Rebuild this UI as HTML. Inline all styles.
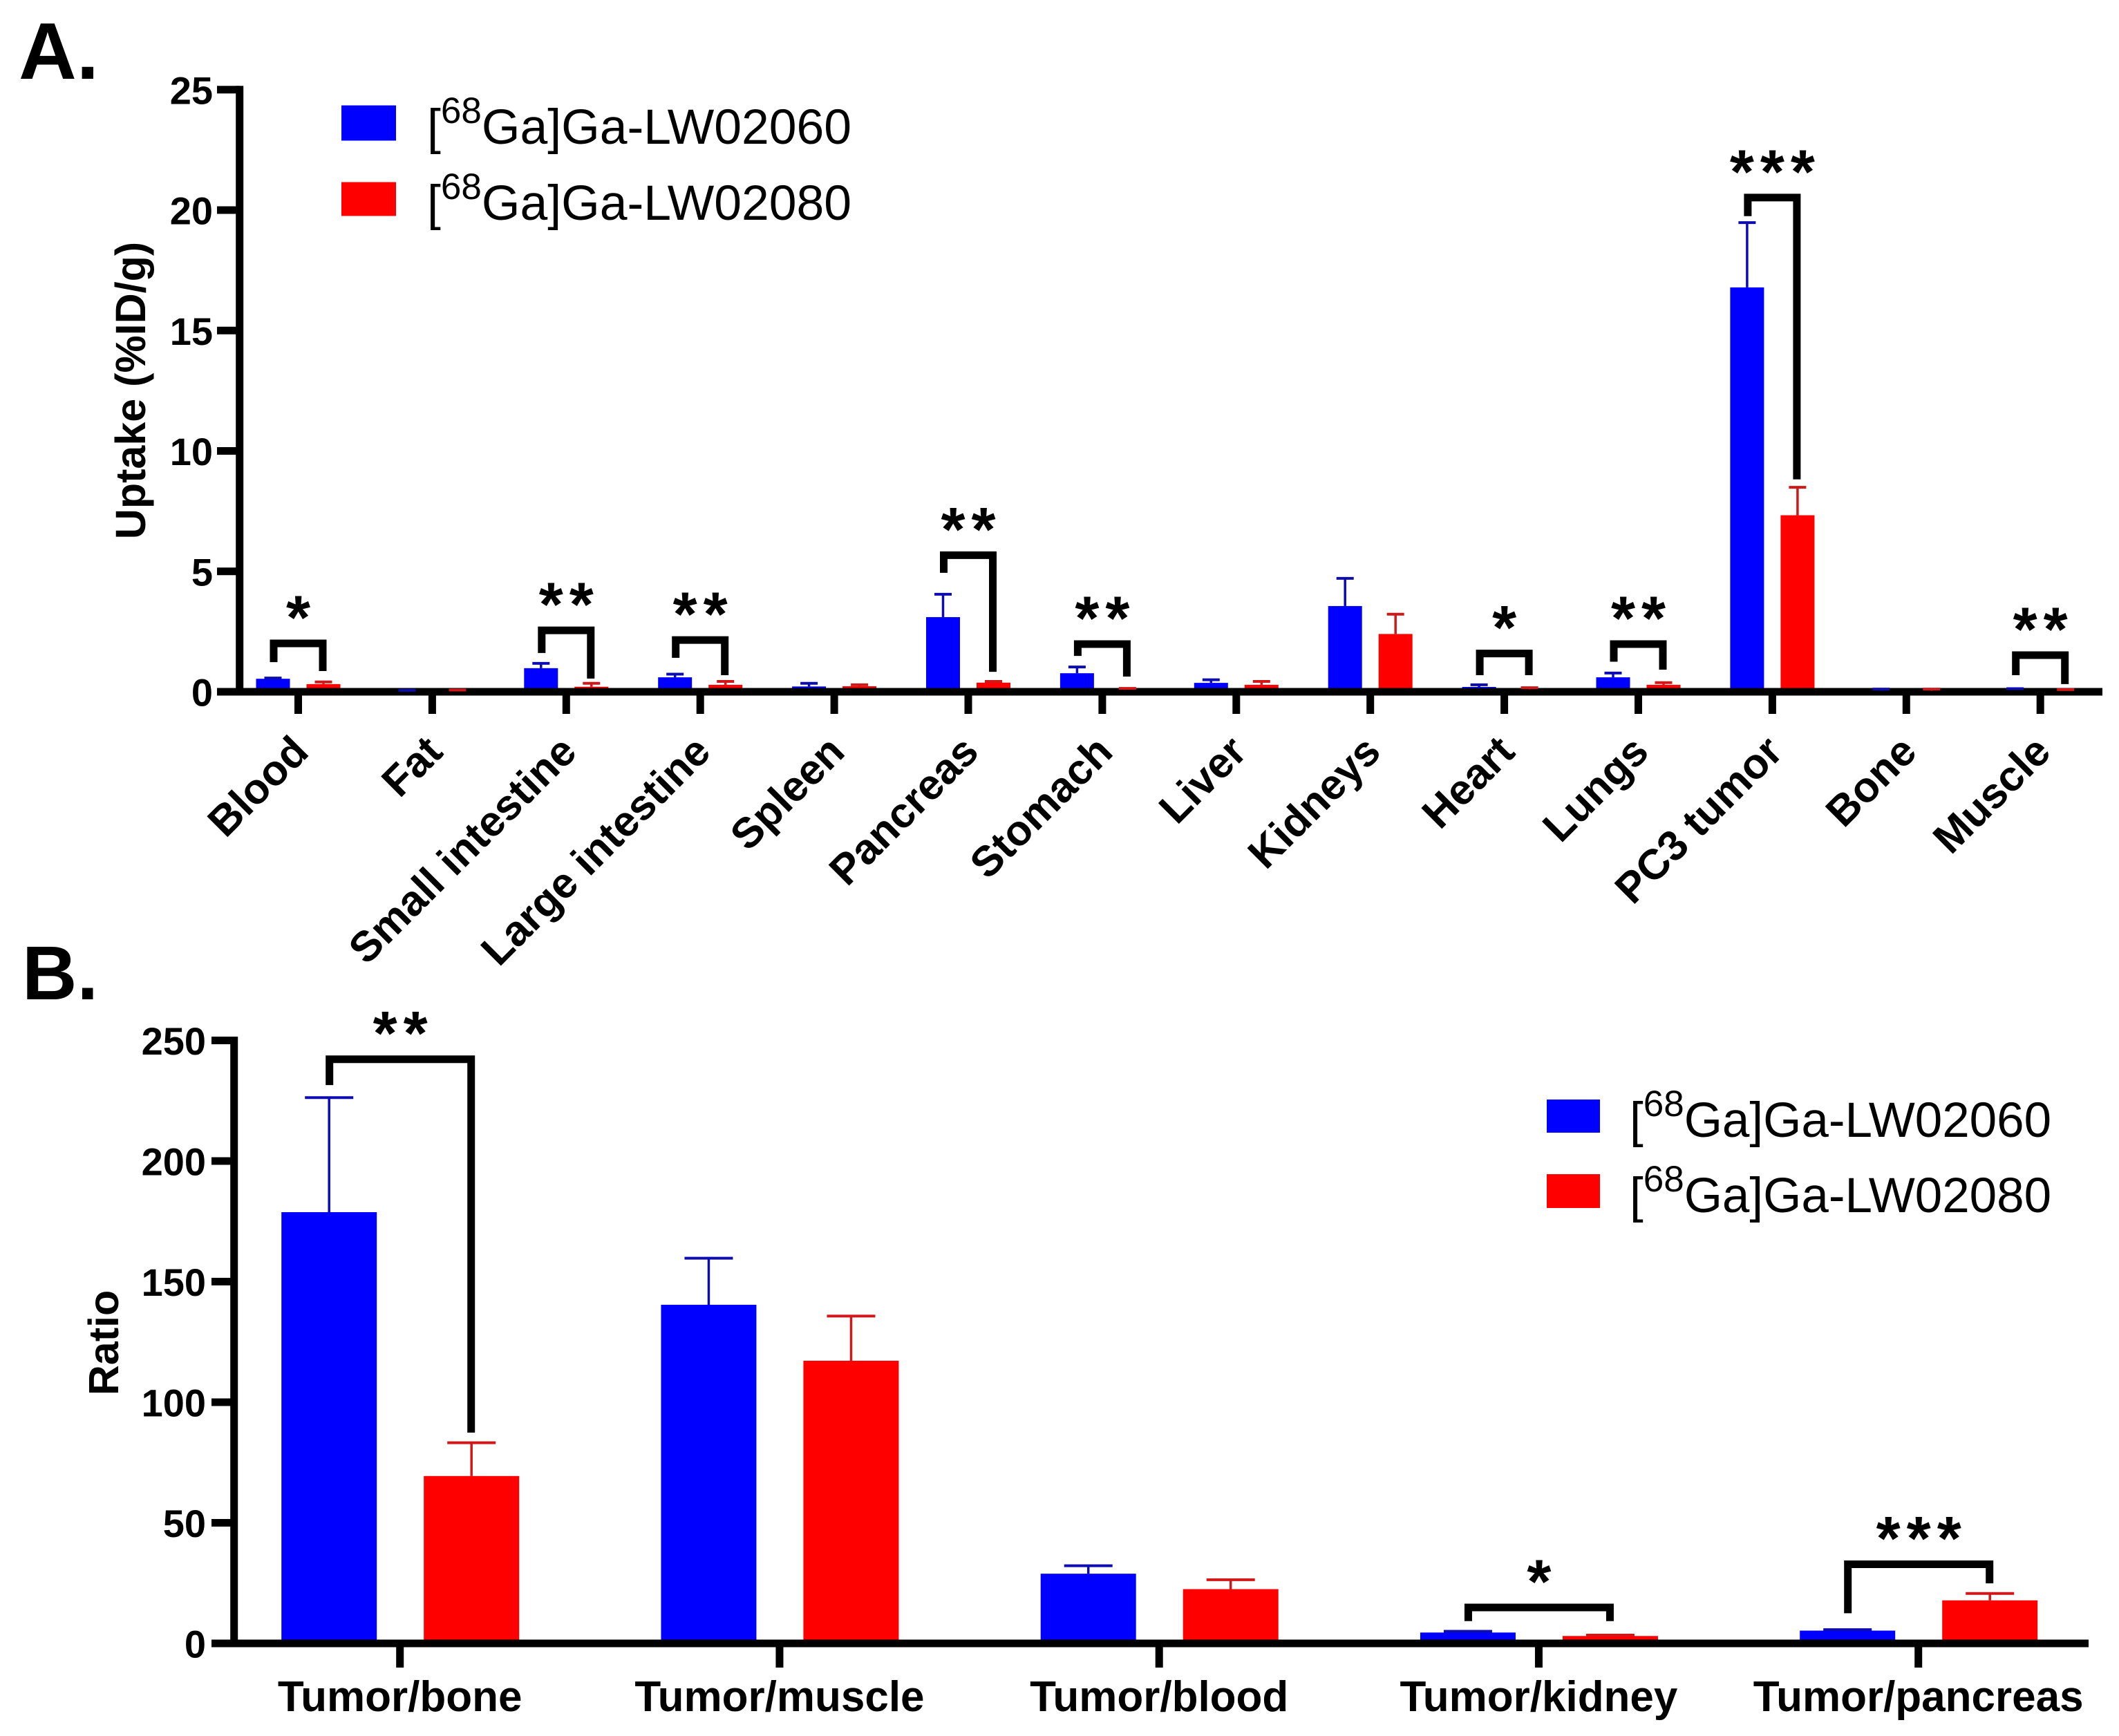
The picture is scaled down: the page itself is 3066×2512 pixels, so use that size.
<!DOCTYPE html>
<html>
<head>
<meta charset="utf-8">
<title>Biodistribution of [68Ga]Ga-LW02060 and [68Ga]Ga-LW02080</title>
<style>
html,body{margin:0;padding:0;background:#fff;}
svg{display:block;}
text{font-family:"Liberation Sans",Arial,sans-serif;fill:#000;}
.b{font-weight:bold;}
</style>
</head>
<body>
<svg id="fig" xmlns="http://www.w3.org/2000/svg" width="3066" height="2512" viewBox="0 0 3066 2512">
<rect x="0" y="0" width="3066" height="2512" fill="#fff"/>
<text class="b" x="27" y="114" font-size="116">A.</text>
<text class="b" x="32" y="1446" font-size="110">B.</text>

<g>
<rect x="494" y="152.5" width="79" height="51" fill="#0000ff"/>
<text x="618" y="208" font-size="71.5">[<tspan font-size="53" dy="-30">68</tspan><tspan dy="30">Ga]Ga-LW02060</tspan></text>
<rect x="494" y="263.5" width="79" height="49" fill="#ff0000"/>
<text x="618" y="318" font-size="71.5">[<tspan font-size="53" dy="-30">68</tspan><tspan dy="30">Ga]Ga-LW02080</tspan></text>
</g>

<g>
<rect x="2238" y="1591" width="77" height="48" fill="#0000ff"/>
<text x="2358" y="1645" font-size="71">[<tspan font-size="53" dy="-30">68</tspan><tspan dy="30">Ga]Ga-LW02060</tspan></text>
<rect x="2238" y="1699" width="77" height="49" fill="#ff0000"/>
<text x="2358" y="1754" font-size="71">[<tspan font-size="53" dy="-30">68</tspan><tspan dy="30">Ga]Ga-LW02080</tspan></text>
</g>

<text class="b" font-size="61" text-anchor="middle" transform="translate(210 565) rotate(-90)">Uptake (%ID/g)</text>
<text class="b" font-size="61" text-anchor="middle" transform="translate(171 1943) rotate(-90)">Ratio</text>
</svg>

<script>
// Panel A data
var organCategories = ["Blood","Fat","Small intestine","Large intestine","Spleen","Pancreas","Stomach","Liver","Kidneys","Heart","Lungs","PC3 tumor","Bone","Muscle"];
var organBlue      = [0.54,0.03,0.98,0.6,0.22,3.1,0.77,0.37,3.56,0.2,0.6,16.79,0.04,0.08];
var organBlueErr   = [0.57,0.06,1.18,0.73,0.35,4.05,1.03,0.5,4.71,0.29,0.78,19.48,0.11,0.13];
var organRed       = [0.32,0.02,0.21,0.29,0.23,0.38,0.1,0.29,2.4,0.1,0.29,7.33,0.04,0.05];
var organRedErr    = [0.41,0.07,0.35,0.43,0.29,0.43,0.14,0.43,3.22,0.17,0.38,8.49,0.11,0.09];
var organYTicks    = [0,5,10,15,20,25];
var organSigIndex  = [0,2,3,5,6,9,10,11,13];
var organSigStars  = ["*","**","**","**","**","*","**","***","**"];
var organSigTop    = [2.01,2.55,2.15,5.67,1.98,1.59,1.98,20.52,1.52];
var organSigLeft   = [1.23,1.61,1.41,4.94,1.49,0.69,1.25,19.75,0.69];
var organSigRight  = [0.86,0.55,0.69,0.83,0.63,0.69,0.92,8.82,0.32];

// Panel B data
var ratioCategories = ["Tumor/bone","Tumor/muscle","Tumor/blood","Tumor/kidney","Tumor/pancreas"];
var ratioBlue      = [178.8,140.4,28.9,4.5,5.3];
var ratioBlueErr   = [226.3,159.7,32.2,5.0,5.7];
var ratioRed       = [69.4,117.2,22.5,3.07,17.85];
var ratioRedErr    = [83.2,135.7,26.4,3.44,20.7];
var ratioYTicks    = [0,50,100,150,200,250];
var ratioSigIndex  = [0,3,4];
var ratioSigStars  = ["**","*","***"];
var ratioSigTop    = [242.2,14.9,32.8];
var ratioSigLeft   = [231.5,9.25,12.5];
var ratioSigRight  = [87.4,9.25,24.9];

var svgNS = "http://www.w3.org/2000/svg";
var root = document.getElementById("fig");

function slug(s){ return String(s).toLowerCase().replace(/[^a-z0-9]+/g,"-"); }

function shape(parent, tag, attrs, name){
  var el = document.createElementNS(svgNS, tag);
  for (var k in attrs) el.setAttribute(k, attrs[k]);
  
  
  parent.appendChild(el);
  return el;
}

function drawBarRect(g, cx, w, value, yScale, fill, name){
  var y0 = yScale(0), yv = yScale(value);
  shape(g, "rect", {x:cx-w/2, y:yv, width:w, height:Math.max(0,y0-yv), fill:fill}, name);
}

function drawError(g, cx, capW, value, err, yScale, stroke, name){
  var yv = yScale(value), ye = yScale(err);
  shape(g, "line", {x1:cx, x2:cx, y1:yv, y2:ye, stroke:stroke, "stroke-width":3.5}, name + "-error-line");
  shape(g, "line", {x1:cx-capW/2, x2:cx+capW/2, y1:ye, y2:ye, stroke:stroke, "stroke-width":4}, name + "-error-cap");
}

function drawChart(o){
  var g = shape(root, "g", {}, o.id + "-chart");
  var i, c, s;
  // bars sit behind the axis line
  for (i = 0; i < o.categories.length; i++){
    c = o.xScale(i) + o.barShift;
    s = slug(o.categories[i]);
    drawBarRect(g, c - o.barOffset, o.barW, o.blue[i], o.yScale, "#0000ff", "bar-blue-" + s);
    drawBarRect(g, c + o.barOffset, o.barW, o.red[i], o.yScale, "#ff0000", "bar-red-" + s);
  }
  // axes
  var top = o.yScale(o.yTicks[o.yTicks.length-1]);
  var zero = o.yScale(0);
  shape(g, "rect", {x:o.axisX-5.5, y:top-5.5, width:11, height:zero-top+11, fill:"#000"}, o.id + "-y-axis-line");
  shape(g, "rect", {x:o.xAxisStart, y:zero-5.5, width:o.xAxisEnd-o.xAxisStart, height:11, fill:"#000"}, o.id + "-x-axis-line");
  for (i = 0; i < o.yTicks.length; i++){
    var ty = o.yScale(o.yTicks[i]);
    shape(g, "rect", {x:o.xAxisStart, y:ty-5.5, width:o.axisX-o.xAxisStart, height:11, fill:"#000"}, o.id + "-y-tick-" + o.yTicks[i]);
    var yl = shape(g, "text", {x:o.yLabelX, y:ty+20.5, "font-size":56, "text-anchor":"end", "class":"b"}, o.id + "-y-tick-label-" + o.yTicks[i]);
    yl.textContent = o.yTicks[i];
  }
  for (i = 0; i < o.categories.length; i++){
    var tx = o.xScale(i);
    shape(g, "rect", {x:tx-5.5, y:zero, width:11, height:o.tickLen, fill:"#000"}, o.id + "-x-tick-" + slug(o.categories[i]));
    var t;
    if (o.rotated){
      t = shape(g, "text", {"font-size":61.5, "text-anchor":"end", "class":"b", transform:"translate(" + (tx+18) + " 1091) rotate(-45)"}, o.id + "-x-tick-label-" + slug(o.categories[i]));
    } else {
      t = shape(g, "text", {x:tx, y:o.labelY, "font-size":62, "text-anchor":"middle", "class":"b"}, o.id + "-x-tick-label-" + slug(o.categories[i]));
    }
    t.textContent = o.categories[i];
  }
  // error bars sit on top of the axis line
  for (i = 0; i < o.categories.length; i++){
    c = o.xScale(i) + o.barShift;
    s = slug(o.categories[i]);
    drawError(g, c - o.barOffset, o.capW, o.blue[i], o.blueErr[i], o.yScale, "#0c0cb0", "bar-blue-" + s);
    drawError(g, c + o.barOffset, o.capW, o.red[i], o.redErr[i], o.yScale, "#d01818", "bar-red-" + s);
  }
  // significance brackets
  for (i = 0; i < o.sigIndex.length; i++){
    var sc = o.xScale(o.sigIndex[i]) + o.barShift;
    var xl = sc - o.sigOffset, xr = sc + o.sigOffset;
    var yt = o.yScale(o.sigTop[i]);
    var d = "M" + xl + " " + o.yScale(o.sigLeft[i]) + "V" + yt + "H" + xr + "V" + o.yScale(o.sigRight[i]);
    shape(g, "path", {d:d, fill:"none", stroke:"#000", "stroke-width":11, "stroke-linejoin":"miter"}, o.id + "-significance-bracket-" + slug(o.categories[o.sigIndex[i]]));
    var st = shape(g, "text", {x:sc + 4.5, y:yt - 6.5, "font-size":90, "text-anchor":"middle", "letter-spacing":9, "class":"b"}, o.id + "-significance-stars-" + slug(o.categories[o.sigIndex[i]]));
    st.textContent = o.sigStars[i];
  }
}

drawChart({
  id:"panel-a",
  categories:organCategories, blue:organBlue, blueErr:organBlueErr, red:organRed, redErr:organRedErr,
  yTicks:organYTicks,
  xScale:function(i){ return 431.5 + 193.9*i; },
  yScale:function(v){ return 1001 - 34.85*v; },
  barShift:0, barOffset:36.5, barW:49, capW:25,
  axisX:346.7, xAxisStart:314, xAxisEnd:3042, yLabelX:308,
  tickLen:32, rotated:true,
  sigIndex:organSigIndex, sigStars:organSigStars, sigTop:organSigTop, sigLeft:organSigLeft, sigRight:organSigRight,
  sigOffset:35.5
});

drawChart({
  id:"panel-b",
  categories:ratioCategories, blue:ratioBlue, blueErr:ratioBlueErr, red:ratioRed, redErr:ratioRedErr,
  yTicks:ratioYTicks,
  xScale:function(i){ return 578.7 + 549.25*i; },
  yScale:function(v){ return 2378 - 3.49*v; },
  barShift:0.5, barOffset:103, barW:138, capW:70,
  axisX:338.7, xAxisStart:306, xAxisEnd:3022, yLabelX:298,
  tickLen:35, rotated:false, labelY:2476,
  sigIndex:ratioSigIndex, sigStars:ratioSigStars, sigTop:ratioSigTop, sigLeft:ratioSigLeft, sigRight:ratioSigRight,
  sigOffset:102.5
});
</script>
</body>
</html>
